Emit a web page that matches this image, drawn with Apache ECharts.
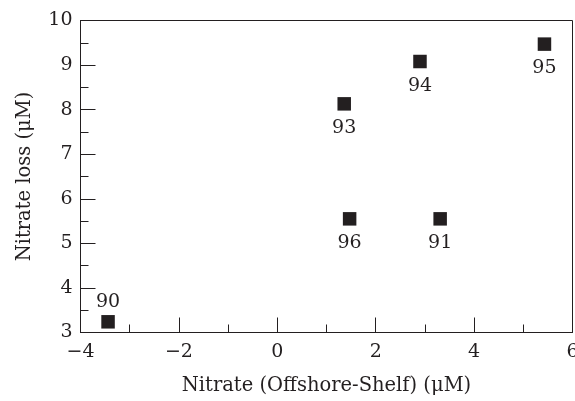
<!DOCTYPE html>
<html>
<head>
<meta charset="utf-8">
<script src="https://cdn.jsdelivr.net/npm/echarts@6/dist/echarts.min.js"></script>
<style>
  html, body { margin: 0; padding: 0; background: #fff; }
  #chart { width: 575px; height: 401px; }
</style>
</head>
<body>
<div id="chart"></div>
<script>
// Nitrate difference (offshore minus shelf) against nitrate loss, by year
const years = ['90', '91', '93', '94', '95', '96'];
const nitrateDiff = [-3.44, 3.31, 1.36, 2.90, 5.43, 1.47];
const nitrateLoss = [3.24, 5.55, 8.13, 9.08, 9.47, 5.55];
const labelAbove = ['90'];

const xTicks = { min: -4, max: 6, interval: 2 };
const yTicks = { min: 3, max: 10, interval: 1 };

const ink = '#231f20';
const serif = '"DejaVu Serif", "Liberation Serif", serif';

const points = years.map((yr, i) => ({
  value: [nitrateDiff[i], nitrateLoss[i]],
  name: yr,
  label: {
    position: labelAbove.includes(yr) ? 'top' : 'bottom',
    distance: labelAbove.includes(yr) ? 3 : 8
  }
}));

const chart = echarts.init(document.getElementById('chart'), null, { renderer: 'canvas' });
chart.setOption({
  animation: false,
  backgroundColor: '#fff',
  grid: {
    left: 80.5, right: 2.5, top: 20.5, bottom: 68.5,
    outerBoundsMode: 'none', containLabel: false,
    show: true, borderColor: ink, borderWidth: 1, backgroundColor: 'transparent'
  },
  xAxis: {
    type: 'value',
    min: xTicks.min, max: xTicks.max, interval: xTicks.interval,
    name: 'Nitrate (Offshore-Shelf) (\u03bcM)',
    nameLocation: 'middle', nameGap: 43,
    nameTextStyle: { fontFamily: serif, fontSize: 19.5, color: ink },
    axisLine: { show: true, onZero: false, lineStyle: { color: ink, width: 1 } },
    axisTick: { show: true, inside: true, length: 15, lineStyle: { color: ink } },
    minorTick: { show: true, splitNumber: 2, length: 8, lineStyle: { color: ink } },
    splitLine: { show: false },
    axisLabel: {
      fontFamily: serif, fontSize: 19, color: ink, margin: 10,
      formatter: v => (v < 0 ? '\u2212' + Math.abs(v) : String(v))
    }
  },
  yAxis: {
    type: 'value',
    min: yTicks.min, max: yTicks.max, interval: yTicks.interval,
    name: 'Nitrate loss (\u03bcM)',
    nameLocation: 'middle', nameGap: 46,
    nameTextStyle: { fontFamily: serif, fontSize: 19.5, color: ink },
    axisLine: { show: true, onZero: false, lineStyle: { color: ink, width: 1 } },
    axisTick: { show: true, inside: true, length: 15, lineStyle: { color: ink } },
    minorTick: { show: true, splitNumber: 2, length: 8, lineStyle: { color: ink } },
    splitLine: { show: false },
    axisLabel: { fontFamily: serif, fontSize: 19, color: ink, margin: 8 }
  },
  series: [{
    type: 'scatter',
    symbol: 'rect',
    symbolSize: 13.5,
    itemStyle: { color: ink, opacity: 1 },
    data: points,
    label: {
      show: true,
      formatter: p => p.name,
      fontFamily: serif, fontSize: 19, color: ink
    }
  }]
});
</script>
</body>
</html>
